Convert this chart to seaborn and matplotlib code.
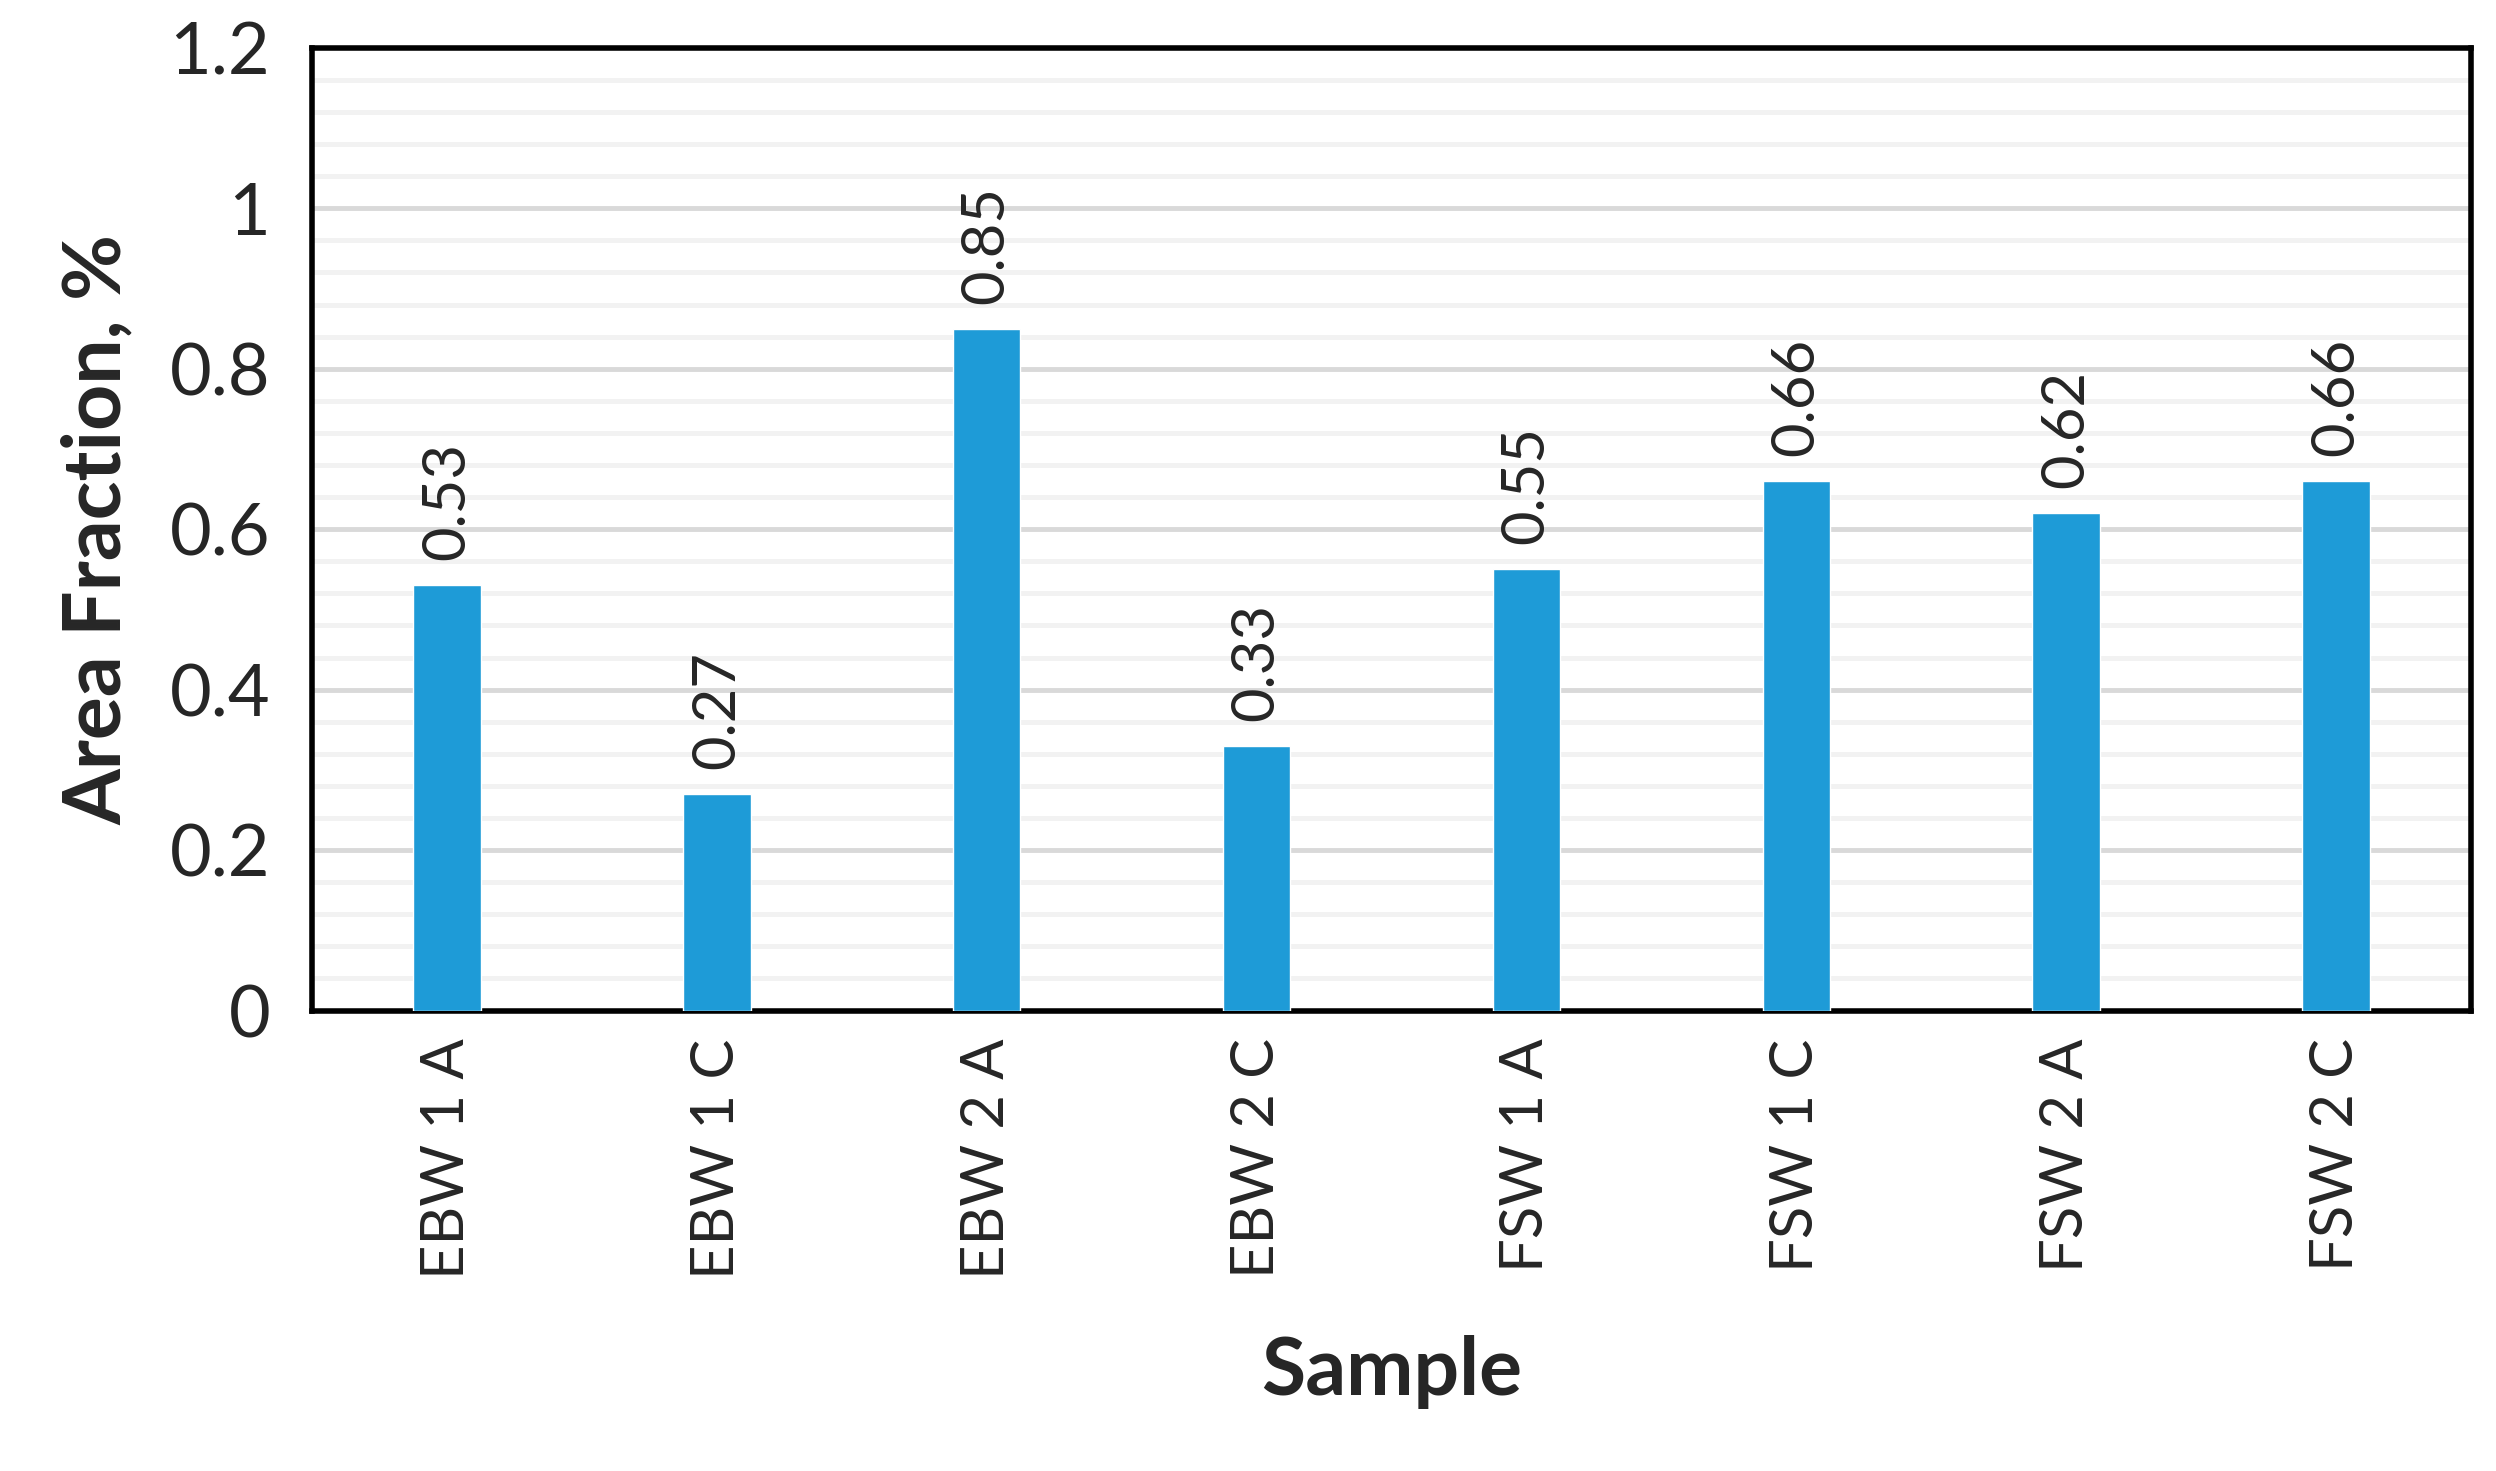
import matplotlib
matplotlib.use("Agg")
import matplotlib.pyplot as plt
import seaborn as sns
import pandas as pd
import numpy as np

samples = ["EBW 1 A", "EBW 1 C", "EBW 2 A", "EBW 2 C", "FSW 1 A", "FSW 1 C", "FSW 2 A", "FSW 2 C"]
values = [0.53, 0.27, 0.85, 0.33, 0.55, 0.66, 0.62, 0.66]
yticks = [0, 0.2, 0.4, 0.6, 0.8, 1, 1.2]
ytick_labels = ["0", "0.2", "0.4", "0.6", "0.8", "1", "1.2"]

sns.set_theme(style="white")
plt.rcParams['font.family'] = ['Lato', 'DejaVu Sans']

df = pd.DataFrame({"Sample": samples, "Value": values})
fig = plt.figure(figsize=(24.96, 14.71), dpi=100)
ax = fig.add_axes([0.125, 0.313, 0.865, 0.6545])
sns.barplot(data=df, x="Sample", y="Value", color="#1E9BD7", width=0.25, saturation=1, ax=ax, zorder=3)
ax.set_ylim(0, 1.2)
ax.set_xlim(-0.5, len(samples) - 0.5)
for y in np.arange(0.04, 1.2, 0.04):
    if abs(round(y / 0.2) * 0.2 - y) < 1e-6:
        ax.axhline(y, color="#D9D9D9", lw=3.5, zorder=1)
    else:
        ax.axhline(y, color="#F2F2F2", lw=3.5, zorder=1)
ax.set_yticks(yticks)
ax.set_yticklabels(ytick_labels, fontsize=52)
ax.set_xticks(range(len(samples)))
ax.set_xticklabels(samples, rotation=90, fontsize=43)
ax.tick_params(axis='x', length=0, pad=20)
ax.tick_params(axis='y', length=0, pad=30)
for s in ax.spines.values():
    s.set_color("black"); s.set_linewidth(4); s.set_visible(True)
for i, v in enumerate(values):
    ax.annotate(f"{v:.2f}", (i, v), xytext=(0, 18), textcoords="offset points",
                rotation=90, ha="center", va="bottom", fontsize=43)
ax.set_xlabel("Sample", fontsize=58, fontweight="bold", labelpad=40)
ax.set_ylabel("Area Fraction, %", fontsize=58, fontweight="bold", labelpad=25)
fig.savefig("out.png", dpi=100)
